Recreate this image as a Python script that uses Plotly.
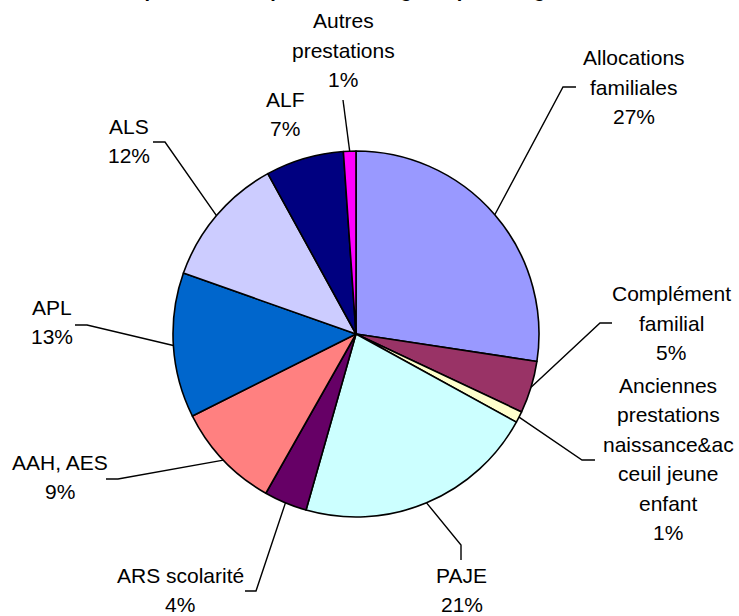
import math
import plotly.graph_objects as go

# ---------------- data ----------------
categories = [
    "Allocations familiales",
    "Complément familial",
    "Anciennes prestations naissance&accueil jeune enfant",
    "PAJE",
    "ARS scolarité",
    "AAH, AES",
    "APL",
    "ALS",
    "ALF",
    "Autres prestations",
]
values = [27.4, 4.6, 1.0, 21.4, 3.8, 9.4, 12.8, 11.6, 6.9, 1.1]
# wrapped display text of each category label (as in the picture)
label_lines = [
    ["Allocations", "familiales"],
    ["Complément", "familial"],
    ["Anciennes", "prestations", "naissance&amp;ac", "ceuil jeune", "enfant"],
    ["PAJE"],
    ["ARS scolarité"],
    ["AAH, AES"],
    ["APL"],
    ["ALS"],
    ["ALF"],
    ["Autres", "prestations"],
]
title_text = "Répartition des prestations légales par catégorie"

# ---------------- styling / layout ----------------
colors = ["#9999FF", "#993366", "#FFFFCC", "#CCFFFF", "#660066",
          "#FF8080", "#0066CC", "#CCCCFF", "#000080", "#FF00FF"]
W, H = 739, 616
CX, CY, R = 356, 334, 183          # pie centre / radius in pixels
FONT = "Arial, 'Liberation Sans', sans-serif"
FS = 21
LINE_H = 29.5
# label block centres (px) and leader-line bend points (px, after edge point)
label_pos = [(634, 87), (671, 323), (668, 459), (462, 590), (180, 590),
             (60, 477), (52, 322), (129, 141), (285, 114), (343, 50)]
leaders = [
    [(563, 87), (576, 87)],
    [(600, 323), (612, 323)],
    [(582, 460), (595, 460)],
    [(461, 545), (461, 560)],
    [(256, 591), (245, 591)],
    [(118, 479), (106, 479)],
    [(87, 325), (75, 325)],
    [(165, 142), (153, 142)],
    [],
    [(343, 100)],
]


def px(x):
    return x / W


def py(y):
    return 1 - y / H


fig = go.Figure(go.Pie(
    labels=categories,
    values=values,
    sort=False,
    direction="clockwise",
    rotation=0,
    textinfo="none",
    marker=dict(colors=colors, line=dict(color="black", width=1.6)),
    domain=dict(x=[px(CX - R), px(CX + R)], y=[py(CY + R), py(CY - R)]),
    showlegend=False,
))

total = sum(values)
annotations = []
shapes = []
cum = 0.0
for i, v in enumerate(values):
    mid = (cum + v / 2) / total * 2 * math.pi
    cum += v
    ex = CX + R * math.sin(mid)
    ey = CY - R * math.cos(mid)
    pct = f"{round(v / total * 100)}%"
    lines = label_lines[i] + [pct]
    lx, ly = label_pos[i]
    n = len(lines)
    for k, t in enumerate(lines):
        yy = ly + (k - (n - 1) / 2) * LINE_H
        annotations.append(dict(
            x=px(lx), y=py(yy), xref="paper", yref="paper",
            text=t, showarrow=False, xanchor="center", yanchor="middle",
            font=dict(family=FONT, size=FS, color="black"),
        ))
    if leaders[i]:
        pts = [(ex, ey)] + leaders[i]
        path = "M " + " L ".join(f"{px(a):.5f},{py(b):.5f}" for a, b in pts)
        shapes.append(dict(type="path", path=path, xref="paper", yref="paper",
                           line=dict(color="black", width=1.4)))

annotations.append(dict(
    x=px(350), y=py(3), xref="paper", yref="paper", text=f"<b>{title_text}</b>",
    showarrow=False, xanchor="center", yanchor="bottom",
    font=dict(family=FONT, size=20, color="black"),
))

fig.update_layout(
    width=W, height=H,
    margin=dict(l=0, r=0, t=0, b=0),
    paper_bgcolor="white",
    plot_bgcolor="white",
    annotations=annotations,
    shapes=shapes,
)

fig.write_html("out.html", config={"displayModeBar": False},
               post_script="document.body.style.margin='0';")
